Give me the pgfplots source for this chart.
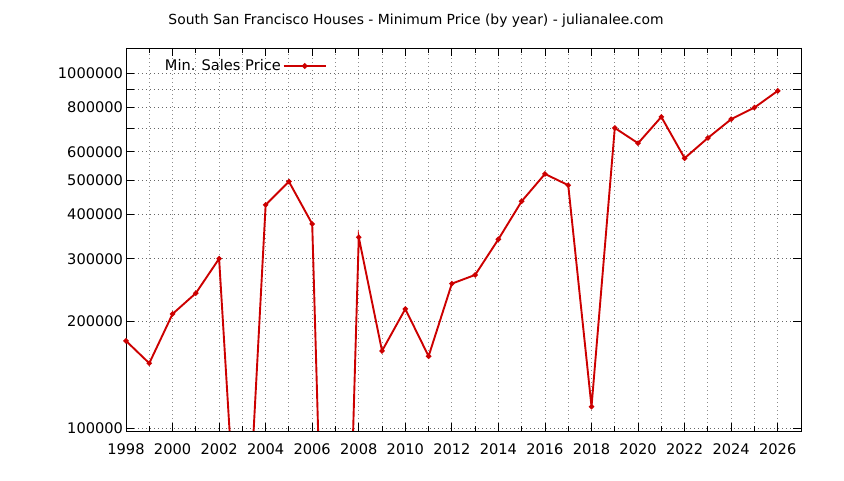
\documentclass[border=0pt]{standalone}
\usepackage{pgfplots}
\pgfplotsset{compat=1.18}
\usepackage{fontspec}
\setmainfont{DejaVu Sans}
\definecolor{lred}{RGB}{204,0,0}

\begin{document}
\begin{tikzpicture}[x=1pt,y=1pt]
\useasboundingbox (-126,-49) rectangle (718,431);
\node[font=\fontsize{13.9}{16}\selectfont] at (290,410) {South San Francisco Houses - Minimum Price (by year) - julianalee.com};
\begin{axis}[
    at={(0pt,0pt)}, anchor=south west,
    scale only axis,
    width=675pt, height=383pt,
    xmode=normal, ymode=log,
    xmin=1998, xmax=2027,
    ymin=98060, ymax=1178000,
    axis line style={black, line width=0.9pt},
    xtick={1998,2000,...,2026},
    minor xtick={1999,2001,...,2027},
    ytick={100000,200000,300000,400000,500000,600000,700000,800000,900000,1000000},
    yticklabels={100000,200000,300000,400000,500000,600000,,800000,,1000000},
    xticklabel style={/pgf/number format/1000 sep={}, yshift=-9pt},
    yticklabel style={xshift=0.5pt},
    /pgf/number format/assume math mode=true,
    tick label style={font=\fontsize{14.6}{16}\selectfont, black},
    xmajorgrids, xminorgrids, ymajorgrids,
    major grid style={black!60, dash pattern=on 0.9pt off 3.1pt, line width=0.9pt},
    minor grid style={black!45, dash pattern=on 0.9pt off 3.1pt, line width=0.9pt},
    x grid style={black!45},
    tick style={black, line width=0.9pt},
    major tick length=8pt, minor tick length=5pt,
    tick align=inside,
    legend style={draw=none, fill=none, at={(0.05,0.953)}, anchor=west,
        font=\fontsize{14.6}{16}\selectfont},
    legend plot pos=right,
    legend cell align=right,
    legend image code/.code={
        \draw[#1, line width=1.8pt] (3pt,0pt) -- (45pt,0pt);
        \fill[lred] (24pt,0pt) circle (1.8pt);
    },
]
\addplot[lred, line width=1.9pt, mark=*, mark size=1.6pt, mark options={fill=lred}]
coordinates {
    (1998,176000) (1999,152200) (2000,209600) (2001,239800) (2002,300100)
    (2003,25000) (2004,425400) (2005,494800) (2006,376000) (2007,1900)
    (2008,344900) (2009,164900) (2010,216500) (2011,159300) (2012,255200)
    (2013,270000) (2014,340400) (2015,435600) (2016,520100) (2017,483400)
    (2018,114800) (2019,701000) (2020,634800) (2021,753200) (2022,576000)
    (2023,657000) (2024,742000) (2025,800000) (2026,891800)
};
\addlegendentry{Min. Sales Price}
\end{axis}
\end{tikzpicture}
\end{document}
